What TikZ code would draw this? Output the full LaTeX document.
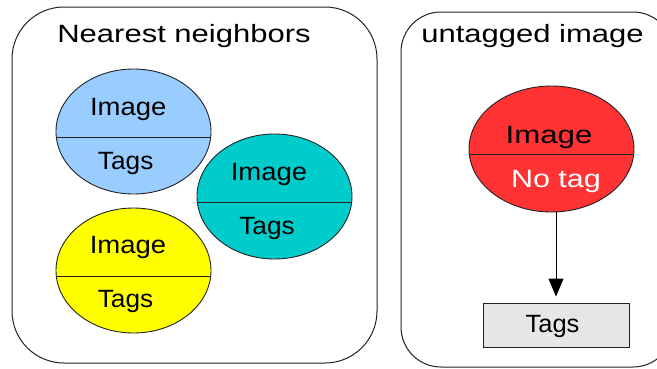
\documentclass[tikz,border=0pt]{standalone}
\usepackage{fontspec}
\setmainfont{Liberation Sans}
\usepackage{graphicx}
\usetikzlibrary{shapes.geometric,arrows.meta,calc}
\definecolor{cblue}{HTML}{99CCFF}
\definecolor{cteal}{HTML}{00CCCC}
\definecolor{cyellow}{HTML}{FFFF00}
\definecolor{cred}{HTML}{FF3333}
\definecolor{cgray}{HTML}{E6E6E6}
\definecolor{cline}{HTML}{222222}
\newcommand{\hs}[2]{\scalebox{#1}[1]{#2}}
\tikzset{
  panel/.style={draw=cline, line width=1pt, rounded corners=#1},
  blob/.style={ellipse, draw=cline, line width=0.9pt, inner sep=0pt, minimum width=155pt, minimum height=125pt},
  divider/.style={draw=cline, line width=1pt},
  lbl/.style={anchor=base, inner sep=0pt, font=\fontsize{25}{30}\selectfont},
  title/.style={anchor=base, inner sep=0pt, font=\fontsize{25}{30}\selectfont},
  tagbox/.style={draw=cline, fill=cgray, line width=0.9pt, minimum width=146pt, minimum height=44pt, inner sep=0pt},
  arrow/.style={draw=black, line width=1pt, -{Triangle[length=18pt,width=15pt]}, shorten >=6pt}
}
\begin{document}
\begin{tikzpicture}[x=1pt,y=-1pt]
\useasboundingbox (0,0) rectangle (657,368);
\begin{scope}
  \clip (0,0) rectangle (657,368);
  \draw[panel=52] (12,7) rectangle (377,363);
  \draw[panel=40] (401,12) rectangle (673,367);
\end{scope}
\node[title] (t1) at (184,42.3) {\hs{1.24}{Nearest neighbors}};
\node[title] (t2) at (532.5,42.7) {\hs{1.24}{untagged image}};

% blue
\node[blob, fill=cblue] (nb1) at (133.5,131.5) {};
\draw[divider] ($(nb1.center)+(-77.2,5.5)$) -- ($(nb1.center)+(77.2,5.5)$);
\node[lbl] (nb1i) at (128.3,115) {\hs{1.10}{Image}};
\node[lbl] (nb1t) at (125.7,169) {\hs{1.05}{Tags}};
% teal
\node[blob, fill=cteal] (nb2) at (274.5,196.5) {};
\draw[divider] ($(nb2.center)+(-77.2,5.5)$) -- ($(nb2.center)+(77.2,5.5)$);
\node[lbl] (nb2i) at (269,180) {\hs{1.10}{Image}};
\node[lbl] (nb2t) at (267,234) {\hs{1.05}{Tags}};
% yellow
\node[blob, fill=cyellow] (nb3) at (133.5,270.5) {};
\draw[divider] ($(nb3.center)+(-77.2,5.5)$) -- ($(nb3.center)+(77.2,5.5)$);
\node[lbl] (nb3i) at (128,253) {\hs{1.10}{Image}};
\node[lbl] (nb3t) at (125.5,307) {\hs{1.05}{Tags}};
% red
\node[blob, fill=cred, minimum width=165pt, minimum height=126pt] (un) at (551.5,149) {};
\draw[divider] ($(un.center)+(-82.2,5)$) -- ($(un.center)+(82.2,5)$);
\node[lbl] (uni) at (549,143.3) {\hs{1.25}{Image}};
\node[lbl, text=white] (unt) at (556,187) {\hs{1.22}{No tag}};
% box
\node[tagbox] (tb) at (556,325) {};
\node[lbl] (tbt) at (552.5,332) {\hs{1.02}{Tags}};
\draw[arrow] (un.south -| tb.north) -- (tb.north);
\end{tikzpicture}
\end{document}
